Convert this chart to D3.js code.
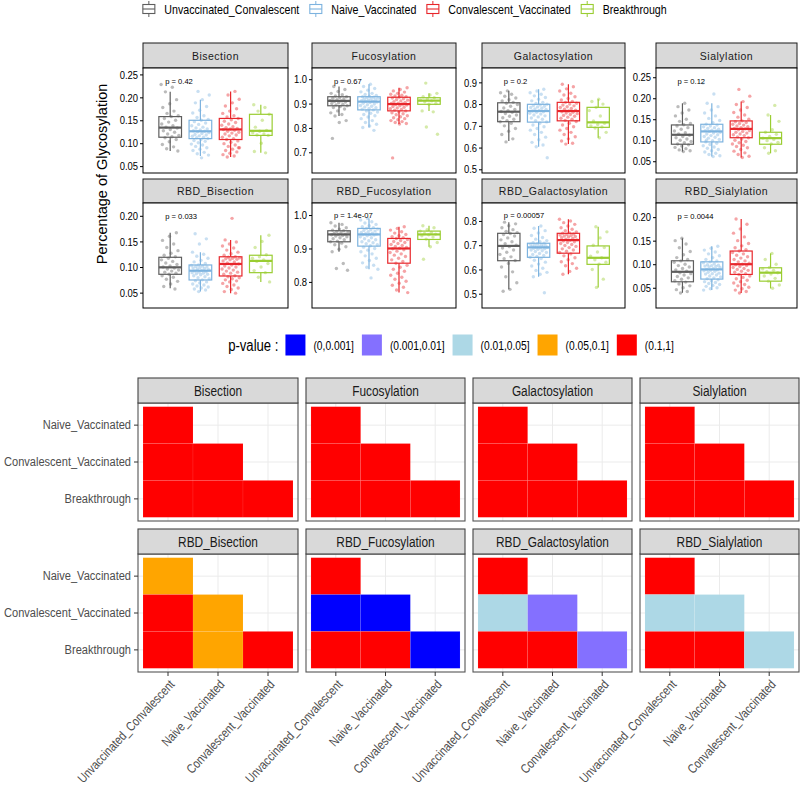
<!DOCTYPE html>
<html><head><meta charset="utf-8">
<script src="https://cdn.jsdelivr.net/npm/d3@7"></script>
<style>body{margin:0;background:#fff} svg{display:block}</style>
</head><body><svg id="c" width="800" height="786"></svg>
<script>
// ---------------- DATA ----------------
const groups = ["Unvaccinated_Convalescent","Naive_Vaccinated","Convalescent_Vaccinated","Breakthrough"];
const groupColors = ["#5E5E5E","#7DB3DF","#E8262B","#9ACD32"];
const panels = ["Bisection","Fucosylation","Galactosylation","Sialylation","RBD_Bisection","RBD_Fucosylation","RBD_Galactosylation","RBD_Sialylation"];
const yDomains = [[0.035,0.264],[0.615,1.046],[0.483,0.966],[0.022,0.272],[0.020,0.225],[0.722,1.036],[0.441,0.874],[0.007,0.230]];
const yTicks = [[0.05,0.10,0.15,0.20,0.25],[0.7,0.8,0.9,1.0],[0.5,0.6,0.7,0.8,0.9],[0.05,0.10,0.15,0.20,0.25],[0.05,0.10,0.15,0.20],[0.8,0.9,1.0],[0.5,0.6,0.7,0.8],[0.05,0.10,0.15,0.20]];
const tickDecimals = [2,1,1,2,2,1,1,2];
const pLabels = ["p = 0.42","p = 0.67","p = 0.2","p = 0.12","p = 0.033","p = 1.4e-07","p = 0.00057","p = 0.0044"];
const pLabelY = [0.236,0.994,0.906,0.241,0.200,1.0,0.825,0.2027];
// box stats per panel, per group: [lower whisker, Q1, median, Q3, upper whisker]
const boxStats = [
 [[0.083,0.113,0.134,0.158,0.212],[0.072,0.110,0.126,0.150,0.195],[0.070,0.108,0.130,0.154,0.213],[0.079,0.117,0.127,0.163,0.184]],
 [[0.849,0.891,0.911,0.928,0.970],[0.802,0.874,0.908,0.928,0.979],[0.816,0.870,0.898,0.926,0.965],[0.870,0.897,0.912,0.924,0.942]],
 [[0.630,0.719,0.765,0.806,0.861],[0.604,0.717,0.768,0.799,0.868],[0.616,0.723,0.768,0.808,0.891],[0.645,0.693,0.716,0.785,0.822]],
 [[0.073,0.0905,0.113,0.1364,0.188],[0.061,0.096,0.121,0.138,0.188],[0.059,0.106,0.127,0.146,0.192],[0.069,0.0905,0.105,0.119,0.160]],
 [[0.0585,0.0858,0.0994,0.119,0.167],[0.052,0.0747,0.0928,0.104,0.129],[0.049,0.0825,0.106,0.120,0.153],[0.071,0.089,0.112,0.123,0.162]],
 [[0.890,0.920,0.942,0.953,0.977],[0.838,0.907,0.942,0.960,0.990],[0.768,0.856,0.900,0.930,0.965],[0.905,0.927,0.942,0.952,0.968]],
 [[0.518,0.636,0.697,0.749,0.795],[0.570,0.650,0.691,0.708,0.779],[0.580,0.667,0.721,0.749,0.807],[0.526,0.621,0.648,0.697,0.776]],
 [[0.0393,0.0627,0.0839,0.1073,0.155],[0.045,0.0684,0.089,0.105,0.138],[0.039,0.0783,0.100,0.128,0.196],[0.0486,0.064,0.082,0.0924,0.123]]
];
// individual points per panel: [Unvacc_Conv, Naive_Vacc, Conv_Vacc, Breakthrough]
const ptsBisection = [
 [.228,.222,.212,.195,.186,.178,.170,.165,.160,.158,.154,.150,.146,.142,.138,.135,.133,.130,.127,.124,.120,.117,.114,.112,.108,.103,.097,.092,.088,.083],
 [.213,.205,.195,.188,.180,.172,.166,.160,.156,.152,.150,.147,.144,.141,.138,.135,.133,.131,.129,.127,.126,.125,.123,.121,.119,.118,.116,.115,.113,.112,.110,.108,.106,.104,.101,.098,.096,.093,.090,.087,.084,.080,.077,.074,.068],
 [.213,.205,.196,.188,.181,.175,.170,.165,.160,.157,.154,.151,.148,.145,.142,.139,.136,.134,.132,.131,.130,.128,.126,.124,.122,.120,.118,.116,.113,.110,.108,.105,.102,.099,.096,.093,.090,.087,.084,.081,.078,.075,.072,.070,.090],
 [.184,.178,.170,.163,.150,.135,.128,.126,.123,.120,.118,.117,.100,.082,.079]
];
const ptsFucosylation = [
 [.970,.958,.950,.942,.936,.931,.928,.925,.922,.919,.916,.913,.911,.909,.906,.903,.900,.897,.894,.891,.888,.884,.878,.870,.862,.855,.849,.830,.822,.757],
 [.979,.970,.962,.955,.948,.942,.937,.933,.930,.928,.926,.924,.922,.920,.918,.916,.914,.912,.910,.908,.906,.904,.901,.898,.895,.892,.889,.886,.883,.880,.877,.874,.870,.865,.860,.855,.850,.845,.838,.830,.822,.815,.808,.802,.790],
 [.965,.958,.952,.947,.942,.938,.934,.931,.928,.926,.923,.920,.917,.914,.911,.908,.905,.902,.900,.898,.896,.894,.891,.888,.885,.882,.879,.876,.873,.870,.866,.862,.858,.854,.850,.846,.842,.838,.834,.830,.826,.822,.818,.816,.677],
 [.984,.942,.935,.928,.924,.919,.914,.911,.907,.900,.897,.870,.866,.804,.774]
];
const ptsGalactosylation = [
 [.861,.852,.845,.836,.828,.820,.814,.808,.804,.798,.790,.782,.775,.770,.766,.762,.757,.750,.744,.737,.730,.724,.719,.712,.700,.688,.675,.660,.640,.626],
 [.868,.860,.852,.845,.838,.830,.822,.815,.808,.803,.799,.796,.793,.790,.787,.784,.781,.778,.775,.771,.768,.765,.762,.758,.754,.750,.746,.741,.736,.730,.724,.718,.712,.704,.696,.688,.680,.670,.660,.648,.636,.624,.612,.604,.553],
 [.891,.880,.870,.860,.850,.842,.834,.826,.819,.812,.808,.804,.800,.796,.792,.788,.784,.780,.776,.772,.768,.765,.762,.759,.756,.752,.748,.744,.740,.735,.730,.725,.720,.712,.704,.696,.688,.680,.670,.660,.650,.640,.630,.620,.616],
 [.822,.812,.800,.785,.770,.745,.722,.712,.706,.700,.695,.690,.670,.645]
];
const ptsSialylation = [
 [.188,.180,.172,.165,.158,.150,.145,.140,.137,.134,.130,.126,.122,.118,.115,.112,.109,.106,.103,.100,.097,.094,.091,.089,.086,.083,.080,.077,.075,.073],
 [.236,.210,.188,.180,.172,.165,.158,.152,.147,.142,.138,.136,.134,.132,.130,.128,.126,.124,.123,.122,.121,.119,.117,.115,.113,.111,.109,.107,.105,.102,.099,.096,.093,.090,.087,.084,.081,.078,.075,.072,.069,.066,.063,.061,.100],
 [.221,.205,.192,.185,.178,.172,.166,.160,.155,.150,.146,.144,.142,.140,.138,.136,.134,.132,.130,.128,.127,.125,.123,.121,.119,.117,.115,.113,.111,.108,.106,.103,.100,.097,.094,.091,.088,.085,.082,.078,.074,.070,.066,.062,.059],
 [.183,.160,.145,.125,.119,.114,.109,.105,.102,.099,.095,.091,.082,.075,.069]
];
const ptsRBD_Bisection = [
 [.167,.160,.152,.145,.138,.132,.127,.123,.120,.117,.114,.111,.108,.105,.102,.100,.098,.096,.094,.092,.090,.088,.086,.083,.080,.076,.072,.067,.062,.057],
 [.165,.155,.145,.129,.125,.121,.117,.113,.110,.107,.104,.103,.102,.101,.100,.099,.098,.097,.096,.095,.093,.092,.091,.090,.089,.088,.087,.086,.085,.083,.081,.079,.077,.075,.073,.071,.069,.067,.065,.063,.061,.059,.057,.055,.052],
 [.195,.153,.149,.145,.141,.137,.133,.129,.126,.123,.120,.119,.118,.117,.116,.115,.114,.112,.110,.108,.106,.104,.102,.100,.098,.096,.094,.092,.090,.088,.086,.083,.081,.079,.077,.075,.073,.071,.068,.065,.062,.059,.056,.052,.049],
 [.162,.150,.138,.124,.120,.117,.114,.111,.107,.100,.093,.089,.080,.071]
];
const ptsRBD_Fucosylation = [
 [.977,.972,.967,.962,.958,.955,.953,.951,.949,.947,.945,.943,.942,.941,.939,.937,.935,.932,.929,.926,.922,.920,.916,.911,.905,.898,.890,.855,.840,.835],
 [.990,.985,.980,.976,.972,.968,.965,.962,.960,.958,.956,.954,.952,.950,.948,.946,.944,.943,.942,.941,.940,.938,.935,.932,.929,.926,.923,.920,.917,.914,.911,.908,.904,.900,.895,.890,.884,.878,.871,.864,.857,.850,.844,.838,.812],
 [.965,.960,.955,.950,.946,.942,.938,.935,.932,.930,.927,.924,.921,.918,.915,.912,.909,.906,.903,.901,.899,.896,.892,.888,.884,.880,.876,.871,.866,.861,.856,.850,.844,.838,.832,.826,.820,.814,.808,.802,.796,.790,.784,.776,.768],
 [.968,.962,.956,.952,.948,.945,.943,.941,.938,.934,.928,.918,.905,.868]
];
const ptsRBD_Galactosylation = [
 [.795,.788,.780,.772,.764,.757,.752,.748,.744,.738,.730,.722,.714,.706,.700,.694,.688,.680,.671,.662,.652,.644,.637,.625,.610,.590,.570,.545,.518,.510],
 [.779,.770,.760,.750,.740,.732,.725,.719,.714,.710,.708,.706,.704,.702,.700,.698,.697,.695,.694,.692,.691,.689,.687,.685,.683,.680,.677,.674,.670,.666,.662,.658,.654,.650,.645,.638,.630,.622,.614,.605,.596,.588,.580,.570,.504],
 [.807,.800,.793,.786,.779,.772,.766,.760,.755,.751,.749,.746,.744,.742,.740,.738,.736,.734,.731,.728,.725,.722,.720,.717,.714,.711,.707,.703,.699,.695,.690,.685,.680,.675,.670,.664,.656,.648,.640,.632,.624,.615,.605,.592,.580],
 [.776,.755,.730,.700,.690,.672,.655,.648,.640,.630,.622,.600,.560,.526]
];
const ptsRBD_Sialylation = [
 [.155,.150,.143,.135,.127,.120,.114,.110,.107,.104,.100,.097,.094,.091,.088,.085,.082,.080,.077,.074,.071,.068,.065,.062,.058,.054,.050,.046,.042,.039],
 [.138,.134,.130,.126,.122,.118,.114,.110,.107,.105,.103,.101,.099,.098,.097,.096,.095,.094,.093,.091,.089,.088,.087,.086,.085,.083,.081,.080,.079,.077,.075,.073,.071,.069,.067,.065,.063,.061,.059,.057,.055,.053,.050,.048,.045],
 [.196,.185,.175,.166,.158,.150,.144,.139,.135,.131,.128,.125,.122,.119,.116,.113,.110,.107,.105,.102,.100,.099,.097,.095,.093,.091,.089,.087,.085,.083,.080,.078,.075,.072,.069,.066,.063,.060,.057,.054,.051,.048,.045,.042,.039],
 [.123,.110,.100,.093,.090,.087,.084,.082,.079,.075,.070,.064,.056,.049]
];
const panelPoints = [ptsBisection,ptsFucosylation,ptsGalactosylation,ptsSialylation,ptsRBD_Bisection,ptsRBD_Fucosylation,ptsRBD_Galactosylation,ptsRBD_Sialylation];

// heatmap data
const pvalBins = ["(0,0.001]","(0.001,0.01]","(0.01,0.05]","(0.05,0.1]","(0.1,1]"];
const binColors = ["#0000FF","#8470FF","#ADD8E6","#FFA500","#FF0000"];
const heatX = ["Unvaccinated_Convalescent","Naive_Vaccinated","Convalescent_Vaccinated"];
const heatY = ["Naive_Vaccinated","Convalescent_Vaccinated","Breakthrough"];
const heatPairs = [["Naive_Vaccinated","Unvaccinated_Convalescent"],["Convalescent_Vaccinated","Unvaccinated_Convalescent"],["Convalescent_Vaccinated","Naive_Vaccinated"],["Breakthrough","Unvaccinated_Convalescent"],["Breakthrough","Naive_Vaccinated"],["Breakthrough","Convalescent_Vaccinated"]];
const heatBins = [[4,4,4,4,4,4],[4,4,4,4,4,4],[4,4,4,4,4,4],[4,4,4,4,4,4],[3,4,3,4,3,4],[4,0,0,4,4,0],[4,2,1,4,4,1],[4,2,2,4,4,2]];

// ---------------- LAYOUT ----------------
const REG = "'Liberation Sans',Arial,Helvetica,sans-serif";
const SQ = 0.82; // horizontal condensation of the reference's text
const svg = d3.select("#c");
const boxCols = [[143,288],[312,456],[482,625],[656,797]];
const boxRows = [{s0:43,s1:68,p1:173},{s0:179,s1:203,p1:308}];
const heatCols = [[138,298],[306,465],[473,632],[640,799]];
const heatRows = [{s0:378,s1:403,p1:521},{s0:529,s1:554,p1:672}];

function ntext(parent, x, y, size, str, anchor){
  return parent.append("text").attr("transform",`translate(${x},${y}) scale(${SQ},1)`)
    .attr("text-anchor",anchor||"start").attr("font-family",REG).attr("font-size",size).attr("fill","#000").text(str);
}

// ---------- top legend ----------
(function(){
  const lg = svg.append("g");
  let xpos = 0;
  groups.forEach((gname,j)=>{
    const it = lg.append("g").attr("transform",`translate(${xpos},0)`);
    const c = groupColors[j];
    it.append("line").attr("x1",7.5).attr("x2",7.5).attr("y1",1).attr("y2",17).attr("stroke",c).attr("stroke-width",1);
    it.append("rect").attr("x",1.5).attr("y",4.5).attr("width",12).attr("height",9).attr("fill","#fff").attr("stroke",c).attr("stroke-width",1.1);
    it.append("line").attr("x1",1.5).attr("x2",13.5).attr("y1",9).attr("y2",9).attr("stroke",c).attr("stroke-width",1.1);
    const t = ntext(it, 23, 13.5, 13, gname);
    const w = t.node().getComputedTextLength()*SQ;
    xpos += 23 + w + 9;
  });
  const total = xpos - 9;
  lg.attr("transform",`translate(${403 - total/2 + 1},0)`);
})();

// ---------- boxplot panels ----------
panels.forEach((name,k)=>{
  const [x0,x1] = boxCols[k%4];
  const R = boxRows[Math.floor(k/4)];
  const y0 = R.s1, y1 = R.p1;
  const x = d3.scaleBand().domain(groups).range([x0,x1]).paddingOuter(0.4).paddingInner(0);
  const y = d3.scaleLinear().domain(yDomains[k]).range([y1,y0]);
  const g = svg.append("g");
  g.append("rect").attr("x",x0).attr("y",R.s0).attr("width",x1-x0).attr("height",R.s1-R.s0)
    .attr("fill","#D9D9D9").attr("stroke","#1A1A1A").attr("stroke-width",1);
  g.append("text").attr("x",(x0+x1)/2).attr("y",(R.s0+R.s1)/2+4).attr("text-anchor","middle")
    .attr("font-family",REG).attr("font-size",10.5).attr("letter-spacing",0.5).attr("fill","#1A1A1A").text(name);
  g.append("rect").attr("x",x0).attr("y",y0).attr("width",x1-x0).attr("height",y1-y0).attr("fill","#fff");
  const ax = d3.axisLeft(y).tickValues(yTicks[k]).tickFormat(d3.format("."+tickDecimals[k]+"f")).tickSize(3).tickPadding(2);
  const ag = g.append("g").attr("transform",`translate(${x0},0)`).call(ax);
  ag.select(".domain").remove();
  ag.selectAll("line").attr("stroke","#000");
  ag.selectAll("text").attr("font-family",REG).attr("font-size",11.5).attr("fill","#000")
    .attr("x",-5/SQ).attr("transform",`scale(${SQ},1)`);
  const step = x.step(), bw = x.bandwidth()*0.75;
  groups.forEach((gname,j)=>{
    const s = boxStats[k][j];
    const cx = x(gname) + x.bandwidth()/2;
    const c = groupColors[j];
    const bg = g.append("g").attr("stroke",c).attr("fill","none");
    bg.append("line").attr("x1",cx).attr("x2",cx).attr("y1",y(s[0])).attr("y2",y(s[1])).attr("stroke-width",1.2);
    bg.append("line").attr("x1",cx).attr("x2",cx).attr("y1",y(s[3])).attr("y2",y(s[4])).attr("stroke-width",1.2);
    bg.append("rect").attr("x",cx-bw/2).attr("y",y(s[3])).attr("width",bw).attr("height",y(s[1])-y(s[3])).attr("stroke-width",1.2);
    bg.append("line").attr("x1",cx-bw/2).attr("x2",cx+bw/2).attr("y1",y(s[2])).attr("y2",y(s[2])).attr("stroke-width",2.2);
    const pts = panelPoints[k][j];
    g.append("g").selectAll("circle").data(pts).join("circle")
      .attr("cx",(d,i)=>cx + (((i*0.6180339887 + j*0.37 + k*0.21)%1) - 0.5)*0.6*step)
      .attr("cy",d=>y(d)).attr("r",1.7).attr("fill",c).attr("fill-opacity",0.42);
  });
  g.append("text").attr("x",x(groups[0])+x.bandwidth()/2-5).attr("y",y(pLabelY[k])+3)
    .attr("font-family",REG).attr("font-size",7.6).attr("fill","#000").text(pLabels[k]);
  g.append("rect").attr("x",x0).attr("y",y0).attr("width",x1-x0).attr("height",y1-y0)
    .attr("fill","none").attr("stroke","#000").attr("stroke-width",1);
});

// y title
svg.append("text").attr("transform","translate(107,174) rotate(-90)").attr("text-anchor","middle")
  .attr("font-family",REG).attr("font-size",14.5).attr("fill","#000").text("Percentage of Glycosylation");

// ---------- heat legend ----------
(function(){
  const lg = svg.append("g");
  const t0 = ntext(lg, 0, 5.5, 16, "p-value :");
  let xpos = t0.node().getComputedTextLength()*SQ + 7;
  pvalBins.forEach((b,i)=>{
    lg.append("rect").attr("x",xpos).attr("y",-10.5).attr("width",20).attr("height",21).attr("fill",binColors[i]);
    const t = ntext(lg, xpos+28, 4.5, 12.5, b);
    xpos += 28 + t.node().getComputedTextLength()*SQ + 8;
  });
  const total = xpos - 8;
  lg.attr("transform",`translate(${451 - total/2},345)`);
})();

// ---------- heatmap panels ----------
panels.forEach((name,k)=>{
  const col = k%4, row = Math.floor(k/4);
  const [x0,x1] = heatCols[col];
  const R = heatRows[row];
  const x = d3.scaleBand().domain(heatX).range([x0,x1]).paddingOuter(0.1).paddingInner(0);
  const y = d3.scaleBand().domain(heatY).range([R.s1,R.p1]).paddingOuter(0.1).paddingInner(0);
  const g = svg.append("g");
  g.append("rect").attr("x",x0).attr("y",R.s1).attr("width",x1-x0).attr("height",R.p1-R.s1).attr("fill","#fff");
  heatX.forEach(d=>{
    const cx = x(d)+x.bandwidth()/2;
    g.append("line").attr("x1",cx).attr("x2",cx).attr("y1",R.s1).attr("y2",R.p1).attr("stroke","#EBEBEB").attr("stroke-width",1);
  });
  heatY.forEach(d=>{
    const cy = y(d)+y.bandwidth()/2;
    g.append("line").attr("x1",x0).attr("x2",x1).attr("y1",cy).attr("y2",cy).attr("stroke","#EBEBEB").attr("stroke-width",1);
  });
  g.append("g").selectAll("rect").data(heatPairs).join("rect")
    .attr("x",d=>x(d[1])).attr("y",d=>y(d[0])).attr("width",x.bandwidth()).attr("height",y.bandwidth())
    .attr("fill",(d,i)=>binColors[heatBins[k][i]])
    .attr("stroke","rgba(255,255,255,0.12)").attr("stroke-width",0.6);
  g.append("rect").attr("x",x0).attr("y",R.s1).attr("width",x1-x0).attr("height",R.p1-R.s1)
    .attr("fill","none").attr("stroke","#555").attr("stroke-width",1.1);
  g.append("rect").attr("x",x0).attr("y",R.s0).attr("width",x1-x0).attr("height",R.s1-R.s0)
    .attr("fill","#D9D9D9").attr("stroke","#444").attr("stroke-width",1.1);
  ntext(g, (x0+x1)/2, (R.s0+R.s1)/2+5, 14.5, name, "middle").attr("fill","#1A1A1A");
  if(col===0){
    const ay = d3.axisLeft(y).tickSize(4).tickPadding(3);
    const ag = g.append("g").attr("transform",`translate(${x0},0)`).call(ay);
    ag.select(".domain").remove();
    ag.selectAll("line").attr("stroke","#333");
    ag.selectAll("text").attr("font-family",REG).attr("font-size",13.5).attr("fill","#4D4D4D")
      .attr("x",-7/SQ).attr("transform",`scale(${SQ},1)`);
  }
  if(row===1){
    const axx = d3.axisBottom(x).tickSize(4).tickPadding(3);
    const ag = g.append("g").attr("transform",`translate(0,${R.p1})`).call(axx);
    ag.select(".domain").remove();
    ag.selectAll("line").attr("stroke","#333");
    ag.selectAll("text").attr("font-family",REG).attr("font-size",13).attr("fill","#4D4D4D")
      .attr("text-anchor","end").attr("dy","0.35em").attr("y",0)
      .attr("transform",`translate(4,10) rotate(-47) scale(${SQ},1)`);
  }
});
</script></body></html>
